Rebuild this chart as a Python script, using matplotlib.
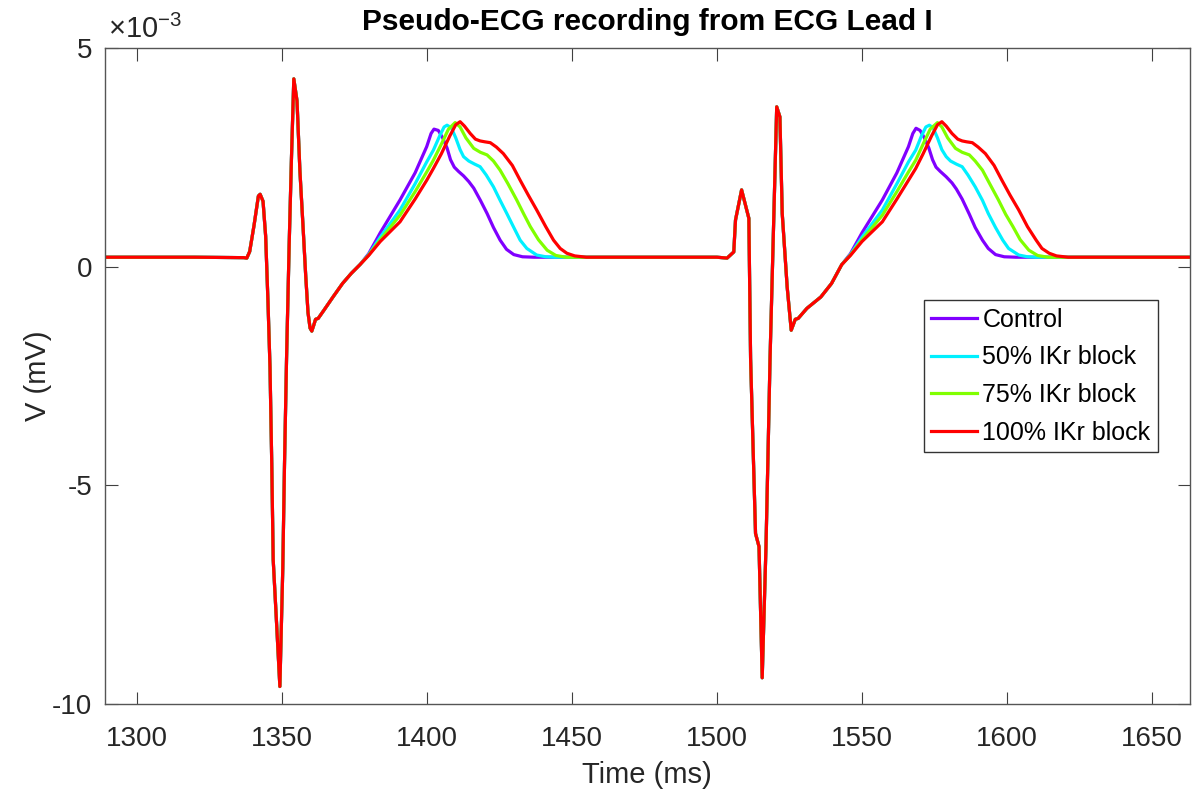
import numpy as np
import matplotlib.pyplot as plt

# values are in units of 1e-3 mV, times in ms

# shared QRS complex + early ST segment, beat 1
qrs1_t = [1289, 1320, 1337.0, 1338.0, 1339.0, 1340.5, 1342.0, 1342.6, 1343.6, 1344.5,
          1345.3, 1346.0, 1346.6, 1347.1, 1348.3, 1349.4, 1350.4, 1351.0, 1351.7, 1352.6,
          1353.4, 1354.2, 1355.3, 1356.3, 1357.4, 1358.3, 1359.1, 1359.8, 1360.4, 1361.0,
          1361.7, 1362.6, 1364.5, 1367.7, 1371.0, 1374.0]
qrs1_v = [0.22, 0.22, 0.21, 0.20, 0.35, 0.95, 1.62, 1.66, 1.50, 0.70,
          -0.80, -2.3, -4.5, -6.7, -8.2, -9.6, -6.9, -4.5, -2.1, 0.5,
          2.5, 4.3, 3.8, 2.2, 0.9, -0.2, -1.05, -1.4, -1.47, -1.35,
          -1.2, -1.18, -1.00, -0.69, -0.38, -0.15]

# shared QRS complex, beat 2
qrs2_t = [1470, 1500, 1503.5, 1505.8, 1506.4, 1508.5, 1511.0, 1511.6, 1512.4, 1513.3,
          1514.5, 1515.6, 1516.9, 1517.6, 1518.3, 1519.5, 1520.6, 1521.7, 1522.5, 1524.2,
          1525.6, 1527.0, 1528.0, 1531.0, 1535.8, 1539.5]
qrs2_v = [0.22, 0.22, 0.20, 0.34, 1.07, 1.76, 1.11, -2.1, -4.0, -6.1,
          -6.4, -9.4, -6.4, -4.3, -2.1, 0.9, 3.66, 3.43, 1.22, -0.46,
          -1.45, -1.2, -1.18, -0.95, -0.69, -0.38]

tail_t = [1630, 1663]
tail_v = [0.22, 0.22]

labels = ['Control', '50% IKr block', '75% IKr block', '100% IKr block']

# T waves, beat 1
tw1_t = {
    'Control': [1377, 1380, 1384, 1390.8, 1396, 1400, 1401.5, 1402.5, 1404, 1405.5, 1407,
                1408.2, 1409.5, 1411, 1412.7, 1414.5, 1416.2, 1418.5, 1420.8, 1423, 1425.3,
                1427.5, 1430, 1433, 1437],
    '50% IKr block': [1377, 1380, 1384, 1390.8, 1396, 1400, 1402.3, 1404.5, 1406, 1407, 1408.5,
                      1410, 1411.5, 1412.7, 1414.5, 1416.5, 1418.4, 1420.5, 1423, 1425.3, 1427.6,
                      1430, 1432.2, 1434.5, 1437.9, 1441, 1444],
    '75% IKr block': [1377, 1380, 1384, 1390.8, 1396, 1400, 1402.3, 1405, 1407.5, 1409.8, 1411.5,
                      1413.5, 1416.2, 1418.5, 1420.8, 1423, 1425.3, 1428, 1431, 1433.5, 1435.7,
                      1438.5, 1441.5, 1444.5, 1448],
    '100% IKr block': [1377, 1380, 1384, 1390.8, 1396, 1400, 1402.3, 1405, 1408, 1410, 1411.5,
                       1413, 1415, 1416.8, 1418.4, 1420, 1421.9, 1424, 1426.4, 1429.5, 1432.2,
                       1435, 1437.9, 1441, 1443.7, 1446, 1448.3, 1451, 1455],
}
tw1_v = {
    'Control': [0.05, 0.30, 0.78, 1.53, 2.15, 2.75, 3.05, 3.15, 3.12, 2.95, 2.72,
                2.45, 2.28, 2.18, 2.08, 1.95, 1.80, 1.52, 1.22, 0.90, 0.61,
                0.40, 0.28, 0.23, 0.22],
    '50% IKr block': [0.05, 0.28, 0.68, 1.30, 1.90, 2.40, 2.67, 3.00, 3.20, 3.24, 3.18,
                      2.95, 2.68, 2.52, 2.42, 2.35, 2.29, 2.10, 1.83, 1.52, 1.22,
                      0.90, 0.61, 0.42, 0.27, 0.23, 0.22],
    '75% IKr block': [0.05, 0.27, 0.62, 1.18, 1.72, 2.17, 2.44, 2.80, 3.15, 3.30, 3.20,
                      2.95, 2.71, 2.62, 2.56, 2.42, 2.21, 1.90, 1.53, 1.20, 0.92,
                      0.62, 0.38, 0.26, 0.22],
    '100% IKr block': [0.05, 0.26, 0.58, 1.03, 1.55, 1.98, 2.25, 2.58, 3.00, 3.25, 3.32,
                       3.22, 3.05, 2.92, 2.88, 2.86, 2.84, 2.74, 2.59, 2.32, 1.98,
                       1.64, 1.30, 0.92, 0.61, 0.42, 0.31, 0.25, 0.22],
}

# T waves, beat 2
tw2_t = {
    'Control': [1543, 1546, 1550, 1557, 1562, 1566, 1567.5, 1568.6, 1570, 1571.5, 1573,
                1574.3, 1575.5, 1577, 1579, 1581, 1582.5, 1584.5, 1587, 1589, 1591.5,
                1593.5, 1596, 1599, 1603],
    '50% IKr block': [1543, 1546, 1550, 1557, 1562, 1566, 1568.5, 1570.5, 1572, 1573.2, 1574.5,
                      1576, 1577.5, 1579, 1580.5, 1582.5, 1584.5, 1586.5, 1589, 1591.5, 1593.5,
                      1596, 1598.5, 1600.5, 1604, 1607, 1610],
    '75% IKr block': [1543, 1546, 1550, 1557, 1562, 1566, 1568.5, 1571, 1573.5, 1576, 1577.5,
                      1579.5, 1582.2, 1584.5, 1587, 1589, 1591.5, 1594, 1597, 1599.5, 1602,
                      1604.5, 1607.5, 1610.5, 1614],
    '100% IKr block': [1543, 1546, 1550, 1557, 1562, 1566, 1568.5, 1571, 1574, 1576, 1577.5,
                       1579, 1581, 1583, 1584.5, 1586, 1588, 1590, 1592.5, 1595.5, 1598.2,
                       1601, 1604, 1607, 1610, 1612, 1614.5, 1617, 1621],
}
tw2_v = {
    'Control': [0.05, 0.30, 0.78, 1.53, 2.15, 2.75, 3.05, 3.17, 3.12, 2.95, 2.72,
                2.45, 2.28, 2.18, 2.06, 1.92, 1.78, 1.55, 1.20, 0.90, 0.61,
                0.42, 0.28, 0.23, 0.22],
    '50% IKr block': [0.05, 0.28, 0.68, 1.30, 1.90, 2.40, 2.67, 3.00, 3.20, 3.24, 3.18,
                      2.95, 2.68, 2.52, 2.42, 2.35, 2.29, 2.10, 1.83, 1.52, 1.22,
                      0.90, 0.61, 0.42, 0.27, 0.23, 0.22],
    '75% IKr block': [0.05, 0.27, 0.62, 1.18, 1.72, 2.17, 2.44, 2.80, 3.15, 3.30, 3.20,
                      2.95, 2.71, 2.62, 2.56, 2.42, 2.21, 1.90, 1.53, 1.20, 0.92,
                      0.62, 0.38, 0.26, 0.22],
    '100% IKr block': [0.05, 0.26, 0.58, 1.03, 1.55, 1.98, 2.25, 2.58, 3.00, 3.25, 3.32,
                       3.22, 3.05, 2.92, 2.88, 2.86, 2.84, 2.74, 2.59, 2.32, 1.98,
                       1.64, 1.30, 0.92, 0.61, 0.42, 0.31, 0.25, 0.22],
}

colors = ['#8000ff', '#00f0ff', '#80ff00', '#ff0000']

xticks = [1300, 1350, 1400, 1450, 1500, 1550, 1600, 1650]
yticks = [-10, -5, 0, 5]

plt.rcParams['font.family'] = ['Liberation Sans', 'DejaVu Sans']
plt.rcParams['mathtext.default'] = 'regular'
txt = '#262626'

fig = plt.figure(figsize=(11.98, 7.91), dpi=100)
ax = fig.add_axes([0.0873, 0.110, 0.906, 0.829])

for lab, col in zip(labels, colors):
    t = np.concatenate([qrs1_t, tw1_t[lab], qrs2_t, tw2_t[lab], tail_t])
    v = np.concatenate([qrs1_v, tw1_v[lab], qrs2_v, tw2_v[lab], tail_v])
    ax.plot(t, v, color=col, lw=2.3, label=lab, solid_joinstyle='round')

ax.set_xlim(1289, 1663)
ax.set_ylim(-10, 5)
ax.set_xticks(xticks)
ax.set_yticks(yticks)
ax.set_yticklabels([str(y) for y in yticks])
ax.tick_params(direction='in', length=9, width=0.8, colors='#404040',
               labelcolor=txt, labelsize=20, top=True, right=True)
ax.tick_params(axis='x', pad=16)
ax.tick_params(axis='y', pad=9)
for s in ax.spines.values():
    s.set_color('#555555')
    s.set_linewidth(1.0)

ax.set_xlabel('Time (ms)', fontsize=21, color=txt, labelpad=6)
ax.set_ylabel('V (mV)', fontsize=21, color=txt, labelpad=0)
ax.set_title('Pseudo-ECG recording from ECG Lead I', fontsize=21.5, fontweight='bold',
             color='black', pad=13)
ax.text(0.003, 1.006, r'$\times10^{-3}$', transform=ax.transAxes, fontsize=21,
        color=txt, ha='left', va='bottom')

leg = ax.legend(loc='upper right', bbox_to_anchor=(0.9705, 0.616), borderaxespad=0,
                fontsize=18, fancybox=False, framealpha=1, edgecolor='#333333',
                handlelength=1.85, handletextpad=0.2, labelspacing=0.55,
                borderpad=0.3)
leg.get_frame().set_linewidth(1.0)

fig.savefig('out.png', dpi=100)
